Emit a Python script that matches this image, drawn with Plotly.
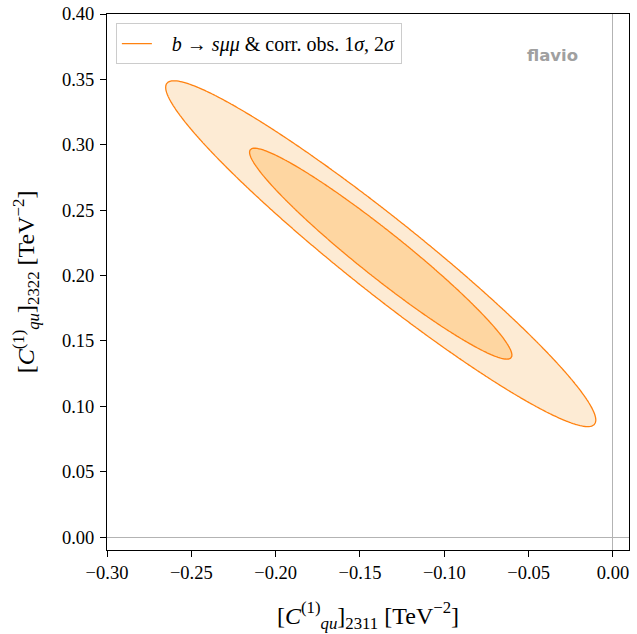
import numpy as np
import plotly.graph_objects as go

# Fit summary (Gaussian approximation of the likelihood)
best_fit = [-0.1377, 0.2167]          # (C_2311, C_2322)
sigmas = [0.0513, 0.0532]
correlation = -0.962
delta_chi2_levels = [2.30, 6.18]      # 1 sigma, 2 sigma for 2 d.o.f.

x_range = [-0.30, 0.0095]
y_range = [-0.0099, 0.40]
x_ticks = [-0.30, -0.25, -0.20, -0.15, -0.10, -0.05, 0.00]
y_ticks = [0.00, 0.05, 0.10, 0.15, 0.20, 0.25, 0.30, 0.35, 0.40]

legend_label = "\u00a0\u00a0\u00a0<i>b</i> → <i>sμμ</i> &amp; corr. obs. 1<i>σ</i>, 2<i>σ</i>"

# grid for the Delta chi^2 surface
xs = np.linspace(x_range[0], x_range[1], 300)
ys = np.linspace(y_range[0], y_range[1], 300)
X, Y = np.meshgrid(xs, ys)
u = (X - best_fit[0]) / sigmas[0]
v = (Y - best_fit[1]) / sigmas[1]
chi2 = (u**2 - 2 * correlation * u * v + v**2) / (1 - correlation**2)

line_col = "#ff8210"
fills = ["#fed6a1", "#fdebd4"]   # 1 sigma, 2 sigma

fig = go.Figure()
for level, fill in sorted(zip(delta_chi2_levels, fills), reverse=True):
    fig.add_trace(go.Contour(
        x=xs, y=ys, z=chi2,
        contours=dict(type="constraint", operation=">", value=level),
        fillcolor=fill,
        line=dict(color=line_col, width=1.3, smoothing=0),
        showscale=False, showlegend=False, hoverinfo="skip",
    ))
fig.add_trace(go.Scatter(x=[None], y=[None], mode="lines",
                         line=dict(color=line_col, width=1.3),
                         name=legend_label, showlegend=True))

serif = "Liberation Serif"
axis_common = dict(
    showgrid=False, zeroline=True, zerolinecolor="#b3b3b3", zerolinewidth=1,
    showline=True, linecolor="black", linewidth=1, mirror=True,
    ticks="outside", ticklen=6, tickcolor="black", tickwidth=1,
    tickfont=dict(family=serif, size=18.5, color="black"),
    tickformat=".2f", automargin=False,
)
fig.update_xaxes(range=x_range, tickvals=x_ticks, **axis_common,
                 title=dict(text="[<i>C</i><sup>(1)</sup><sub><i>qu</i></sub>]<sub>2311</sub> [TeV<sup>−2</sup>]",
                            font=dict(family=serif, size=24, color="black"), standoff=24))
fig.update_yaxes(range=y_range, tickvals=y_ticks, ticklabelstandoff=2, **axis_common,
                 title=dict(text="[<i>C</i><sup>(1)</sup><sub><i>qu</i></sub>]<sub>2322</sub> [TeV<sup>−2</sup>]",
                            font=dict(family=serif, size=24, color="black"), standoff=20))

fig.add_annotation(text="<b>flavio</b>", xref="paper", yref="paper",
                   x=0.854, y=0.923, xanchor="center", yanchor="middle", showarrow=False,
                   font=dict(family="DejaVu Sans", size=16.5, color="#a0a0a0"))

fig.update_layout(
    width=637, height=634,
    margin=dict(l=107, r=8, t=14, b=84),
    paper_bgcolor="white", plot_bgcolor="white",
    legend=dict(x=0.017, y=0.983, xanchor="left", yanchor="top",
                bgcolor="white", bordercolor="#cccccc", borderwidth=1,
                font=dict(family=serif, size=20, color="black")),
)

fig.write_html("out.html", config={"displayModeBar": False},
               post_script="document.body.style.margin='0';")
